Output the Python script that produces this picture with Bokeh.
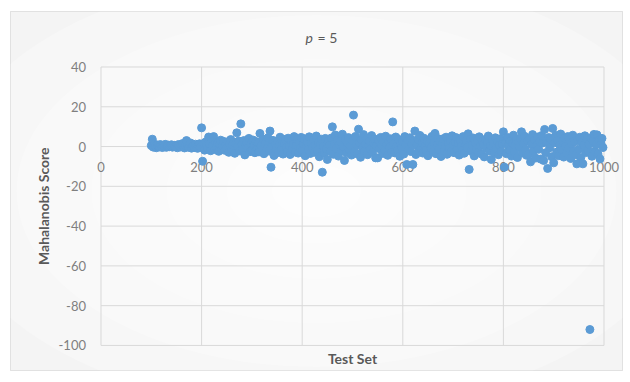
import math
from bokeh.plotting import figure
from bokeh.models import ColumnDataSource, Range1d
from bokeh.core.properties import value
from bokeh.embed import file_html
from bokeh.resources import INLINE

title_p = "p"
title_rest = "= 5"
x_label = "Test Set"
y_label = "Mahalanobis Score"
x_ticks = [0, 200, 400, 600, 800, 1000]
y_ticks = [-100, -80, -60, -40, -20, 0, 20, 40]

test_index = list(range(100, 1000, 2))
scores = [
    0.5, 3.7, -0.3, 1.2, 0.2, -0.6, 0.8, 0.1, -0.2, 1.0, 0.4, -0.5, 0.6, 0.0, 1.1, -0.4, 0.3, 0.7, -0.1, 0.5, 0.9, -0.3, 0.2, 0.6, -0.2,
    0.4, -0.6, 1.0, 0.3, -0.2, 0.8, 1.5, 0.1, -0.7, 0.5, 3.0, 0.2, -0.4, 0.9, 1.8, -0.8, 0.3, 0.6, -0.5, 1.2, 0.0, -0.9, 0.7, 1.4, -0.3,
    9.4, -7.4, 1.5, -1.8, 2.3, 0.6, -0.9, 4.8, 1.2, -2.1, 3.9, 0.4, 5.0, -1.5, 2.0, -0.6, 1.7, -2.4, 0.9, 3.2, -1.2, 0.3, 2.6, -1.9, 1.1,
    -0.8, 2.4, -2.9, 1.3, 3.5, -1.6, 0.7, 2.1, -3.4, 1.6, 6.9, 0.2, 2.8, -2.2, 11.4, 1.0, -1.3, 3.0, -4.2, 0.5, 2.2, -0.7, 4.1, -2.6, 1.4,
    -1.9, 3.3, 0.8, -3.1, 2.5, -0.4, 1.9, -2.7, 6.6, 0.3, -1.5, 3.8, -3.6, 1.2, 2.7, -0.9, 4.4, -2.3, 7.8, -10.4, 0.6, 3.1, -4.5, 1.8, -1.1,
    2.6, -3.0, 0.9, 4.7, -1.7, 2.0, -3.8, 1.5, 3.6, -0.5, -2.5, 4.2, 0.4, -4.0, 2.9, -1.4, 1.1, 5.0, -2.8, 0.7, 3.4, -3.3, 1.6, -0.8, 4.6,
    -2.0, 1.3, 3.9, -4.6, 0.5, 2.4, -1.6, 4.9, -3.5, 1.8, -0.6, 3.1, -2.9, 0.8, 5.3, -1.9, 2.2, -5.1, 1.0, 3.7, -12.9, 0.2, -3.4, 4.1, -1.2,
    -6.5, 2.8, 0.6, -2.4, 4.3, 9.9, -3.9, 1.4, 5.8, -1.0, 3.0, -4.8, 0.9, 2.5, -2.1, 6.2, -0.4, -7.0, 3.6, -3.1, 1.7, 4.5, -1.8, 0.3, -4.3,
    2.9, 15.8, -2.6, 5.1, 0.8, -3.7, 8.7, 1.9, -5.4, 3.4, -0.9, 6.0, -2.2, 1.2, 4.0, -4.1, 0.5, 2.7, -1.4, 5.5, -3.0, 1.6, 3.8, -5.7, 0.4,
    -5.7, 3.2, -1.1, 4.6, 0.7, -3.5, 2.3, -2.0, 5.2, 1.0, -4.4, 2.6, -0.3, 3.9, -2.7, 12.4, 1.5, -3.2, 4.8, 0.2, -1.7, 3.5, -4.9, 1.9, -0.6,
    2.4, -3.8, 5.0, 0.9, -9.0, 3.3, -1.3, 4.4, -2.5, 1.1, -9.0, 2.8, 7.8, -4.0, 0.6, 3.7, -2.1, 5.6, -0.8, 1.9, -3.3, 4.2, 0.3, -1.9, 2.6,
    -4.6, 1.4, 3.6, -0.7, 5.1, -2.8, 2.0, 6.6, -3.6, 0.8, 4.0, -1.5, 2.5, -5.0, 1.2, 3.9, -2.3, 0.5, 4.7, -3.9, 1.7, -0.9, 3.1, -2.6, 5.4,
    0.9, -3.1, 2.2, 4.5, -1.2, 1.6, -4.3, 3.4, 0.2, -2.0, 5.0, -3.4, 1.3, 2.9, -0.5, 6.4, -11.5, 3.8, -2.4, 0.7, 4.3, -4.7, 1.9, -1.6, 3.0,
    -2.9, 4.9, 0.4, -3.7, 2.7, 1.0, -5.2, 3.6, -0.8, 2.1, 5.3, -2.2, 0.6, -6.5, 3.2, 1.5, -3.0, 4.4, -1.0, 2.4, -4.1, 0.8, 3.9, -2.5, 1.3,
    7.4, -10.4, 2.0, -3.6, 4.6, 0.3, -1.9, 3.0, -4.8, 1.7, 5.7, -2.7, 0.9, 3.5, -5.5, 2.3, -0.4, 4.1, 7.4, -3.2, 1.4, 5.2, -1.6, -4.4, 2.8,
    -3.9, 4.0, -7.7, 1.1, 6.0, -2.3, 3.3, -5.8, 0.5, 4.8, -1.4, 2.6, -6.3, 5.5, 1.8, -7.0, 8.6, -3.1, 2.2, -11.0, 4.5, -0.6, 3.7, -5.1, 9.1,
    -8.2, 1.9, 5.6, -2.8, 3.1, -4.6, 0.8, 6.3, -1.7, 2.9, -5.3, 4.2, 0.1, -3.4, 5.0, -0.9, 3.6, -6.0, 1.5, 5.7, -2.2, 2.5, -4.1, -8.7, 3.4,
    -1.3, 4.7, -5.5, 2.1, -8.7, 0.6, 5.4, -3.0, 3.9, -1.8, 1.2, -92.0, 4.4, -4.9, 2.8, 6.1, -2.4, 0.9, 5.9, -3.8, 3.2, -6.2, 1.6, 4.1, -0.5,
]

FONT = value("Lato")
GRID = "#d9d9d9"
TXT = "#7f7f7f"
TITLE_TXT = "#595959"
BLUE = "#5b9bd5"

# The frame covers the whole chart box (like Excel's chart area);
# the plot area 0..1000 x -100..40 sits inside it.
p = figure(width=623, height=371,
           x_range=Range1d(-179.9, 1036.8), y_range=Range1d(-112.6, 67.9),
           x_axis_type=None, y_axis_type=None,
           output_backend="svg", toolbar_location=None,
           min_border_left=10, min_border_top=11, min_border_right=1, min_border_bottom=1)
p.title.visible = False
p.border_fill_color = "white"
p.background_fill_color = "#ececec"
p.outline_line_color = GRID

# soft radial background, as in the original chart area
cx = (p.x_range.start + p.x_range.end) / 2
cy = (p.y_range.start + p.y_range.end) / 2
for w in [1100, 900, 750, 600, 450, 300, 180, 90]:
    p.ellipse(x=cx, y=cy, width=w, height=w * 0.587, width_units="screen", height_units="screen",
              fill_color="white", fill_alpha=0.25, line_color=None)

x0, x1 = x_ticks[0], x_ticks[-1]
y0, y1 = y_ticks[0], y_ticks[-1]

# gridlines / plot-area box
p.segment(x0=x_ticks, y0=[y0] * len(x_ticks), x1=x_ticks, y1=[y1] * len(x_ticks),
          line_color=GRID, line_width=1)
p.segment(x0=[x0] * len(y_ticks), y0=y_ticks, x1=[x1] * len(y_ticks), y1=y_ticks,
          line_color=GRID, line_width=1)

# y tick labels
p.text(x=[x0] * len(y_ticks), y=y_ticks, text=[str(t) for t in y_ticks],
       text_font=FONT, text_font_size="13px", text_color=TXT,
       text_align="right", text_baseline="middle", x_offset=-15)
# x tick labels, hanging under the zero line
p.text(x=x_ticks, y=[0] * len(x_ticks), text=[str(t) for t in x_ticks],
       text_font=FONT, text_font_size="13px", text_color=TXT,
       text_align="center", text_baseline="middle", y_offset=20)

# axis titles
mid_x = (x0 + x1) / 2
mid_y = (y0 + y1) / 2
p.text(x=[mid_x], y=[y0], text=[x_label], text_font=FONT, text_font_size="14px",
       text_font_style="bold", text_color=TITLE_TXT, text_align="center",
       text_baseline="middle", y_offset=13)
p.text(x=[x0], y=[mid_y], text=[y_label], text_font=FONT, text_font_size="14px",
       text_font_style="bold", text_color=TITLE_TXT, text_align="center",
       text_baseline="middle", x_offset=-57, angle=math.pi / 2)

# chart title: italic p, upright "= 5"
p.text(x=[mid_x], y=[y1], text=[title_p], text_font=FONT, text_font_size="14px",
       text_font_style="italic", text_color=TITLE_TXT, text_align="left",
       text_baseline="middle", x_offset=-47, y_offset=-29)
p.text(x=[mid_x], y=[y1], text=[title_rest], text_font=FONT, text_font_size="14px",
       text_color=TITLE_TXT, text_align="left",
       text_baseline="middle", x_offset=-35, y_offset=-29)

src = ColumnDataSource(data=dict(x=test_index, y=scores))
p.scatter(x="x", y="y", source=src, size=8, fill_color=BLUE, line_color=BLUE)

open("out.html", "w").write(file_html(p, INLINE))
